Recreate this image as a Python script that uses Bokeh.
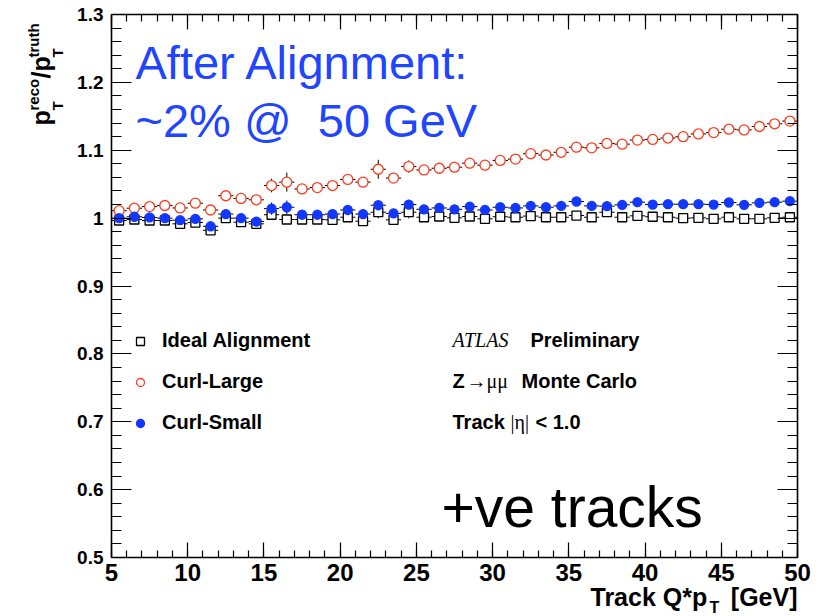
import numpy as np
from bokeh.plotting import figure
from bokeh.models import (Label, Legend, LegendItem, LinearAxis,
                          SingleIntervalTicker, CustomJSTickFormatter, ColumnDataSource)
from bokeh.embed import file_html
from bokeh.resources import INLINE

# ---------------- data ----------------
bin_centers = np.arange(5.5, 50.0, 1.0)   # 1 GeV bins from 5 to 50 GeV
bin_half_width = 0.5

ideal_y = [0.9965, 0.998, 0.9965, 0.9965, 0.9916, 0.9935, 0.982, 1.000, 0.994, 0.9916,
           1.005, 0.998, 0.998, 0.998, 0.9975, 1.0013, 0.9955, 1.0087, 0.9975, 1.0087,
           1.0013, 1.0024, 1.0004, 1.0024, 0.999, 1.002, 1.0013, 1.003, 1.0013, 1.0013,
           1.0038, 1.0013, 1.0087, 1.0013, 1.0034, 1.002, 1.0013, 1.000, 1.0004, 0.999,
           1.0013, 0.999, 0.999, 1.0004, 1.0013]
ideal_err = [0.002, 0.002, 0.002, 0.002, 0.003, 0.003, 0.006, 0.003, 0.003, 0.003,
             0.007, 0.004, 0.003, 0.003, 0.003, 0.003, 0.003, 0.009, 0.003, 0.009,
             0.002, 0.002, 0.002, 0.002, 0.002, 0.002, 0.002, 0.002, 0.002, 0.002,
             0.002, 0.002, 0.002, 0.002, 0.002, 0.002, 0.002, 0.002, 0.002, 0.002,
             0.002, 0.002, 0.002, 0.002, 0.002]

curl_large_y = [1.011, 1.0146, 1.017, 1.0186, 1.015, 1.022, 1.012, 1.033, 1.029, 1.027,
                1.048, 1.053, 1.043, 1.045, 1.048, 1.057, 1.053, 1.072, 1.059, 1.076,
                1.071, 1.0735, 1.075, 1.081, 1.078, 1.085, 1.087, 1.095, 1.093, 1.097,
                1.1045, 1.1036, 1.110, 1.109, 1.115, 1.116, 1.118, 1.120, 1.124, 1.126,
                1.131, 1.130, 1.135, 1.139, 1.143]
curl_large_err = [0.002, 0.002, 0.002, 0.002, 0.003, 0.003, 0.004, 0.003, 0.003, 0.003,
                  0.010, 0.014, 0.003, 0.003, 0.003, 0.003, 0.003, 0.014, 0.003, 0.009,
                  0.002, 0.002, 0.002, 0.002, 0.002, 0.002, 0.002, 0.002, 0.002, 0.002,
                  0.002, 0.002, 0.002, 0.002, 0.002, 0.002, 0.002, 0.002, 0.002, 0.002,
                  0.002, 0.002, 0.002, 0.002, 0.002]

curl_small_y = [1.000, 1.002, 1.001, 1.000, 0.997, 0.999, 0.988, 1.006, 1.000, 0.995,
                1.014, 1.016, 1.005, 1.005, 1.006, 1.012, 1.006, 1.019, 1.007, 1.020,
                1.013, 1.015, 1.013, 1.017, 1.012, 1.016, 1.015, 1.018, 1.016, 1.018,
                1.0245, 1.018, 1.0176, 1.0196, 1.0235, 1.020, 1.0205, 1.0205, 1.0205, 1.020,
                1.023, 1.0196, 1.0225, 1.0235, 1.025]
curl_small_err = [0.002, 0.002, 0.002, 0.002, 0.003, 0.003, 0.006, 0.003, 0.003, 0.003,
                  0.009, 0.010, 0.003, 0.003, 0.003, 0.003, 0.003, 0.007, 0.003, 0.007,
                  0.002, 0.002, 0.002, 0.002, 0.002, 0.002, 0.002, 0.002, 0.002, 0.002,
                  0.002, 0.002, 0.002, 0.002, 0.002, 0.002, 0.002, 0.002, 0.002, 0.002,
                  0.002, 0.002, 0.002, 0.002, 0.002]

series_names = ["Ideal Alignment", "Curl-Large", "Curl-Small"]

# ---------------- geometry ----------------
W, H = 816, 616
# data box in canvas pixels
BL, BR, BT, BB = 111, 797, 14, 557
X0, X1 = 5.0, 50.0
Y0, Y1 = 0.5, 1.3
SX = (X1 - X0) / (BR - BL)
SY = (Y1 - Y0) / (BB - BT)
x_start, x_end = X0 - BL * SX, X1 + (W - BR) * SX
y_start, y_end = Y0 - (H - BB) * SY, Y1 + BT * SY


def dx(px):
    return X0 + (px - BL) * SX


def dy(py):
    return Y0 + (BB - py) * SY


p = figure(width=W, height=H, x_range=(x_start, x_end), y_range=(y_start, y_end),
           output_backend="svg", toolbar_location=None,
           min_border=0, x_axis_type=None, y_axis_type=None)
p.xgrid.visible = False
p.ygrid.visible = False
p.outline_line_color = None
p.background_fill_color = "white"
p.border_fill_color = "white"

xt = SingleIntervalTicker(interval=5, num_minor_ticks=5)
yt = SingleIntervalTicker(interval=0.1, num_minor_ticks=5)
yfmt = CustomJSTickFormatter(code="return (Math.round(tick*10)/10).toString();")

FONT = "Liberation Sans"


def style_axis(ax, major_in, minor_in, show_labels, size="18px", standoff=8):
    ax.major_tick_in = major_in
    ax.major_tick_out = 0
    ax.minor_tick_in = minor_in
    ax.minor_tick_out = 0
    ax.axis_line_color = "black"
    ax.axis_line_width = 1.6
    ax.major_tick_line_width = 1.2
    ax.minor_tick_line_width = 1.2
    if show_labels:
        ax.major_label_text_font = FONT
        ax.major_label_text_font_style = "bold"
        ax.major_label_text_font_size = size
        ax.major_label_text_color = "black"
        ax.major_label_standoff = standoff
    else:
        ax.major_label_text_color = None
        ax.major_label_text_font_size = "1px"
        ax.major_label_standoff = 0


xb = LinearAxis(ticker=xt, fixed_location=Y0, bounds=(X0, X1))
style_axis(xb, 15, 7, True, "24px", 6)
p.add_layout(xb, "below")
xtop = LinearAxis(ticker=xt, fixed_location=Y1, bounds=(X0, X1))
style_axis(xtop, 15, 7, False)
p.add_layout(xtop, "above")

ybounds = (Y0 - 1e-4, Y1 + 1e-4)
yl = LinearAxis(ticker=yt, formatter=yfmt, fixed_location=X0, bounds=ybounds)
style_axis(yl, 20, 10, True, "19px", 8)
p.add_layout(yl, "left")
yr = LinearAxis(ticker=yt, fixed_location=X1, bounds=ybounds)
style_axis(yr, 20, 10, False)
p.add_layout(yr, "right")

# ---------------- series ----------------
RED = "#ff3a1a"
BLUE = "#1238ff"
TEXT_BLUE = "#1f45ff"


def draw(yv, ev, marker, size, fill, line):
    xs = np.asarray(bin_centers)
    yv = np.asarray(yv)
    ev = np.asarray(ev)
    src = ColumnDataSource(dict(x=xs, y=yv, xl=xs - bin_half_width, xh=xs + bin_half_width,
                                ylo=yv - ev, yhi=yv + ev))
    p.segment(x0="xl", y0="y", x1="xh", y1="y", source=src, line_color="black", line_width=1)
    p.segment(x0="x", y0="ylo", x1="x", y1="yhi", source=src, line_color="black", line_width=1)
    return p.scatter("x", "y", source=src, marker=marker, size=size,
                     fill_color=fill, line_color=line, line_width=1.3)


r_ideal = draw(ideal_y, ideal_err, "square", 9, "white", "black")
r_large = draw(curl_large_y, curl_large_err, "circle", 10, "white", RED)
r_small = draw(curl_small_y, curl_small_err, "circle", 9, BLUE, BLUE)

legend = Legend(items=[LegendItem(label=series_names[0], renderers=[r_ideal]),
                       LegendItem(label=series_names[1], renderers=[r_large]),
                       LegendItem(label=series_names[2], renderers=[r_small])],
                location=(130, H - 434), orientation="vertical",
                glyph_width=20, glyph_height=20, label_height=20, spacing=18,
                label_standoff=12, padding=0, margin=0,
                border_line_color=None, background_fill_alpha=0,
                label_text_font=FONT, label_text_font_style="bold",
                label_text_font_size="20px", label_text_color="black")
p.add_layout(legend)


# ---------------- texts ----------------
BASE_SHIFT = 0.4   # rendered baseline sits this many ems below the anchor


def lab(text, px, py, size, color="black", font=FONT, style="bold",
        align="left", angle=0.0):
    """px, py: wanted start and baseline of the text, in canvas pixels."""
    if angle == 0.0:
        py = py - BASE_SHIFT * size
    else:
        px = px - BASE_SHIFT * size
    p.add_layout(Label(x=dx(px), y=dy(py), text=text, text_font=font,
                       text_font_style=style, text_font_size=f"{size}px",
                       text_color=color, text_align=align, text_baseline="alphabetic",
                       angle=angle))


lab("After Alignment:", 135, 81, 47, TEXT_BLUE, style="normal")
lab("~2% @\u00a0 50 GeV", 135, 139, 47, TEXT_BLUE, style="normal")
lab("+ve tracks", 441, 529, 57, "black", style="normal")

lab("ATLAS", 452, 347, 20, font="Liberation Serif", style="italic")
lab("Preliminary", 530, 347, 20)
lab("Z", 452, 388, 20)
lab("\u2192\u03bc\u03bc", 466, 388, 20, font="Liberation Serif", style="normal")
lab("Monte Carlo", 521, 388, 20)
lab("Track", 452, 429, 20)
lab("|\u03b7|", 510, 429, 20, font="Liberation Serif", style="normal")
lab("< 1.0", 535, 429, 20)

# x-axis title
lab("Track Q*p", 590, 606, 25)
lab("T", 709, 613, 16)
lab("[GeV]", 797, 606, 25, align="right")

# y-axis title (rotated, reading upward)
ang = np.pi / 2
lab("p", 50, 125, 25, angle=ang)
lab("T", 63, 110, 15, angle=ang)
lab("reco", 39, 110, 15, angle=ang)
lab("/p", 50, 78, 25, angle=ang)
lab("T", 63, 57, 15, angle=ang)
lab("truth", 39, 57, 15, angle=ang)

open("out.html", "w").write(file_html(p, INLINE))
